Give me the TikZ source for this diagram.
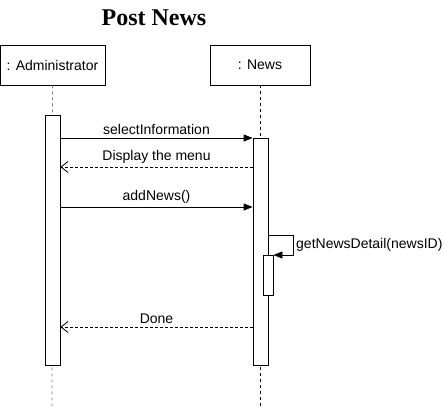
\documentclass[tikz,border=0pt]{standalone}
\usepackage{fontspec}
\setmainfont{Liberation Sans}
\newfontfamily\titlefont{Liberation Serif}
\usetikzlibrary{arrows.meta}
\begin{document}
\begin{tikzpicture}[x=1pt,y=-1pt,
  obj/.style={draw,line width=0.8pt,fill=white,minimum width=100pt,minimum height=40pt,inner sep=0pt,font=\fontsize{14}{16}\selectfont},
  actbox/.style={draw,line width=0.8pt,fill=white,inner sep=0pt},
  lifeline/.style={dashed,dash pattern=on 3pt off 3pt,line width=0.8pt},
  msg/.style={line width=0.8pt,-{Triangle[length=9pt,width=7pt]}},
  ret/.style={line width=0.8pt,dashed,dash pattern=on 3pt off 2pt,-{Straight Barb[length=7pt,width=11pt,line width=0.8pt]}},
  lbl/.style={font=\fontsize{14}{16}\selectfont,inner sep=1pt},
  lblup/.style={lbl,above,yshift=2pt}]
\useasboundingbox (0,0) rectangle (444,408);
\node[font=\titlefont\bfseries\fontsize{24}{28}\selectfont] (title) at (154,18) {Post News};
% lifelines
\coordinate (aend) at (52,408);
\coordinate (nend) at (260,408);
\node[obj,minimum width=105pt] (admin) at (52.5,65) {: Administrator};
\node[obj] (news) at (260,65) {: News};
\draw[lifeline,gray] (admin.south) -- (aend);
\draw[lifeline] (news.south) -- (nend);
% activations
\node[actbox,minimum width=15pt,minimum height=250pt] (aact) at (52.5,240) {};
\node[actbox,minimum width=15pt,minimum height=227pt] (nact) at (260.5,251.5) {};
\node[actbox,minimum width=10pt,minimum height=40pt] (sub) at (268,275) {};
% messages
\coordinate (m1s) at (aact.east |- 0,138);
\coordinate (m1e) at (nact.west |- 0,138);
\draw[msg] (m1s) -- node[lblup] {selectInformation} (m1e);
\coordinate (m2s) at (nact.west |- 0,167);
\coordinate (m2e) at (aact.east |- 0,167);
\draw[ret] (m2s) -- node[lblup] {Display the menu} (m2e);
\coordinate (m3s) at (aact.east |- 0,207);
\coordinate (m3e) at (nact.west |- 0,207);
\draw[msg] (m3s) -- node[lblup] {addNews()} (m3e);
% self message
\coordinate (s1) at (nact.east |- 0,235);
\coordinate (s2) at (293,235);
\coordinate (s3) at (293,255);
\coordinate (s4) at (sub.east |- 0,255);
\draw[msg] (s1) -- (s2) -- (s3) -- (s4);
\node[lbl,anchor=west] (sl) at (295,245) {getNewsDetail(newsID)};
% done
\coordinate (m4s) at (nact.west |- 0,327);
\coordinate (m4e) at (aact.east |- 0,327);
\draw[ret] (m4s) -- node[lblup] {Done} (m4e);
\end{tikzpicture}
\end{document}
